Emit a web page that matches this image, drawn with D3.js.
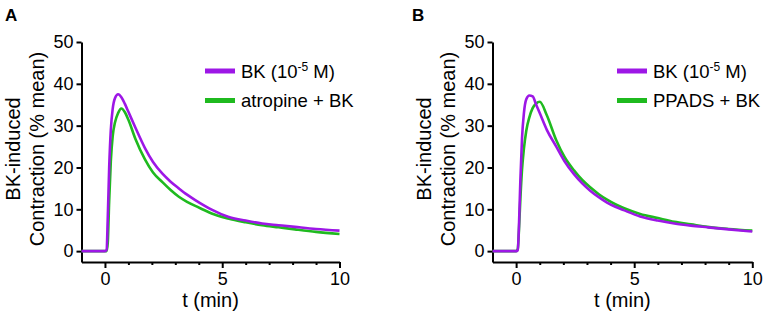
<!DOCTYPE html>
<html>
<head>
<meta charset="utf-8">
<script src="https://cdn.jsdelivr.net/npm/d3@7"></script>
<style>
  body { margin: 0; background: #fff; }
  svg { display: block; font-family: "Liberation Sans", Arial, sans-serif; }
</style>
</head>
<body>
<div id="chart"></div>
<script>
(function(){

// time points (min), shared by all series
const time = [-1, 0, 0.07, 0.12, 0.18, 0.25, 0.33, 0.43, 0.56, 0.7, 0.85, 1.0, 1.3, 1.7, 2.05,
              2.45, 2.8, 3.15, 3.5, 3.85, 4.2, 4.55, 5.25, 6.0, 6.7, 7.4, 8.1, 9.0, 10.0];

// panel A
const bkA       = [0, 0, 0.3, 8, 20, 29, 34, 36.6, 37.5, 36.8, 35.2, 33.3, 29.5, 24.7, 21.3,
                   18.5, 16.6, 15.0, 13.5, 12.2, 11.0, 9.9, 8.2, 7.3, 6.6, 6.2, 5.8, 5.3, 4.9];
const atropineA = [0, 0, 0, 2, 12, 21.5, 27.5, 30.8, 33.0, 34.1, 33.2, 31.4, 26.8, 22.0, 18.8,
                   16.5, 14.6, 13.0, 11.8, 10.8, 9.9, 9.0, 7.8, 6.9, 6.2, 5.7, 5.2, 4.6, 4.1];

// panel B
const bkB       = [0, 0, 0.2, 6, 17, 27, 33, 36.3, 37.2, 37.0, 35.0, 33.0, 29.0, 25.0, 21.5,
                   18.4, 16.2, 14.4, 12.9, 11.6, 10.6, 9.8, 8.3, 7.3, 6.6, 6.1, 5.7, 5.2, 4.7];
const ppadsB    = [0, 0, 0.5, 5, 12.5, 19.5, 24.5, 28.8, 32.0, 34.2, 35.3, 35.7, 32.5, 26.5, 22.5,
                   19.3, 17.0, 15.2, 13.6, 12.3, 11.2, 10.3, 8.9, 7.9, 7.0, 6.4, 5.8, 5.3, 4.9];

const yTicks = [0, 10, 20, 30, 40, 50];
const xMajor = [0, 5, 10];
const xMinor = [1, 2, 3, 4, 6, 7, 8, 9];

const purple = "#9d17e6";
const green = "#1fba1f";

const width = 765, height = 316;

const svg = d3.select("#chart").append("svg")
    .attr("width", width)
    .attr("height", height);

const panels = [
  { label: "A", labelX: 5, x0: 81.5, x1: 339.5, legX: 205, series: [
      { name: "BK", values: bkA, color: purple },
      { name: "atropine + BK", values: atropineA, color: green } ] },
  { label: "B", labelX: 412, x0: 492.5, x1: 752.3, legX: 617, series: [
      { name: "BK", values: bkB, color: purple },
      { name: "PPADS + BK", values: ppadsB, color: green } ] }
];

panels.forEach(p => {
  const g = svg.append("g");

  const x = d3.scaleLinear().domain([-1, 10]).range([p.x0, p.x1]);
  const y = d3.scaleLinear().domain([-2.6, 50]).range([262, 42]);

  // panel letter
  g.append("text")
      .attr("x", p.labelX)
      .attr("y", 21)
      .attr("font-size", 17)
      .attr("font-weight", "bold")
      .text(p.label);

  // y axis
  g.append("g")
      .attr("transform", `translate(${p.x0},0)`)
      .call(d3.axisLeft(y).tickValues(yTicks).tickSize(5).tickSizeOuter(0).tickPadding(3));

  // x axis, major + minor ticks
  g.append("g")
      .attr("transform", `translate(0,${y(-2.6)})`)
      .call(d3.axisBottom(x).tickValues(xMajor).tickSize(6).tickSizeOuter(0).tickPadding(4));
  g.append("g")
      .attr("transform", `translate(0,${y(-2.6)})`)
      .call(d3.axisBottom(x).tickValues(xMinor).tickSize(3).tickFormat(""))
      .select(".domain").remove();

  g.selectAll(".domain").attr("stroke", "#000").attr("stroke-width", 2);
  g.selectAll(".tick line").attr("stroke", "#000").attr("stroke-width", 2);
  g.selectAll(".tick text").attr("font-size", 18).attr("font-family", "Liberation Sans, Arial, sans-serif").attr("fill", "#000");

  // axis titles
  g.append("text")
      .attr("x", (x(-1) + x(10)) / 2)
      .attr("y", 307)
      .attr("text-anchor", "middle")
      .attr("font-size", 20)
      .text("t (min)");

  const ty = g.append("text")
      .attr("transform", `translate(${p.x0 - 62},149) rotate(-90)`)
      .attr("text-anchor", "middle")
      .attr("font-size", 20);
  ty.append("tspan").attr("x", 0).attr("dy", 0).text("BK-induced");
  ty.append("tspan").attr("x", 0).attr("dy", 24.5).text("Contraction (% mean)");

  // curves
  const line = d3.line()
      .x((d, i) => x(time[i]))
      .y(d => y(d))
      .curve(d3.curveMonotoneX);

  p.series.slice().reverse().forEach(s => {
    g.append("path")
        .datum(s.values)
        .attr("fill", "none")
        .attr("stroke", s.color)
        .attr("stroke-width", 2.6)
        .attr("stroke-linejoin", "round")
        .attr("d", line);
  });

  // legend
  p.series.forEach((s, i) => {
    const ly = 71 + i * 29.5;
    g.append("line")
        .attr("x1", p.legX).attr("x2", p.legX + 30)
        .attr("y1", ly).attr("y2", ly)
        .attr("stroke", s.color)
        .attr("stroke-width", 5);
    const t = g.append("text")
        .attr("x", p.legX + 36)
        .attr("y", ly + 6.5)
        .attr("font-size", 18.5);
    if (s.name === "BK") {
      t.append("tspan").text("BK (10");
      t.append("tspan").attr("font-size", 12).attr("dy", -7).text("-5");
      t.append("tspan").attr("dy", 7).text(" M)");
    } else {
      t.text(s.name);
    }
  });
});

})();
</script>
</body>
</html>
